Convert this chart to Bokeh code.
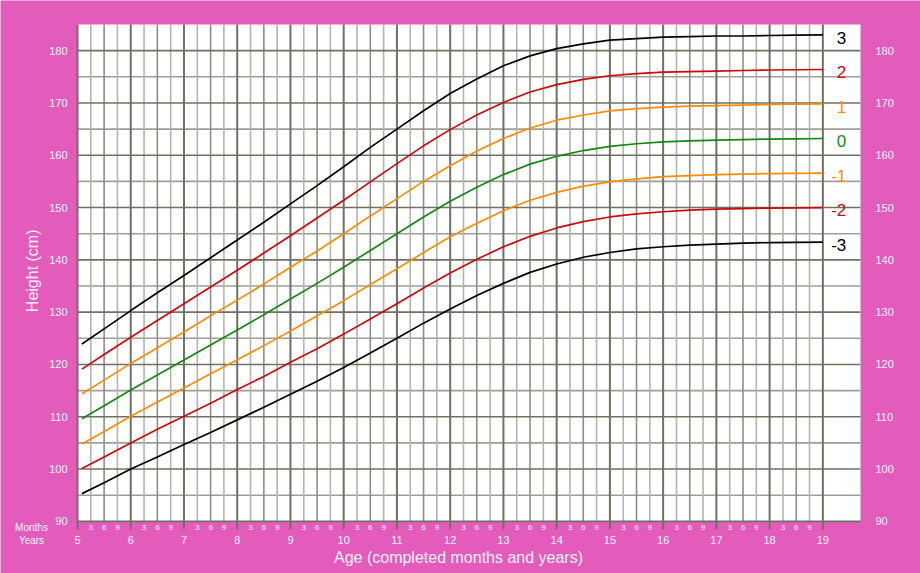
from bokeh.plotting import figure
from bokeh.models import Range1d
from bokeh.embed import file_html
from bokeh.resources import INLINE
from bokeh.core.properties import value
import math

# ---------------- data (height-for-age, girls 5-19 y, z-score curves) -------------
age = [5.083, 5.5, 6, 6.5, 7, 7.5, 8, 8.5, 9, 9.5, 10, 10.5, 11, 11.5, 12, 12.5,
       13, 13.5, 14, 14.5, 15, 15.5, 16, 16.5, 17, 17.5, 18, 18.5, 19]

sd3neg = [95.3, 97.4, 100.0, 102.3, 104.7, 107.0, 109.4, 111.8, 114.3, 116.8, 119.4,
          122.2, 125.0, 127.9, 130.6, 133.2, 135.5, 137.6, 139.2, 140.5, 141.4,
          142.1, 142.5, 142.8, 143.0, 143.2, 143.3, 143.35, 143.4]
sd2neg = [100.1, 102.3, 105.0, 107.6, 110.1, 112.6, 115.2, 117.7, 120.4, 123.0, 125.8,
          128.7, 131.6, 134.6, 137.5, 140.1, 142.5, 144.5, 146.1, 147.3, 148.2,
          148.8, 149.2, 149.5, 149.7, 149.8, 149.9, 149.95, 150.0]
sd1neg = [104.8, 107.2, 110.1, 112.8, 115.5, 118.2, 120.9, 123.6, 126.4, 129.3, 132.2,
          135.3, 138.3, 141.4, 144.4, 147.0, 149.4, 151.4, 152.9, 154.1, 154.9,
          155.5, 155.9, 156.1, 156.3, 156.4, 156.5, 156.55, 156.6]
sd0 = [109.6, 112.1, 115.1, 118.0, 120.85, 123.7, 126.6, 129.5, 132.5, 135.5, 138.6,
       141.8, 145.0, 148.2, 151.2, 153.9, 156.3, 158.3, 159.8, 160.9, 161.7,
       162.2, 162.55, 162.75, 162.9, 163.0, 163.1, 163.15, 163.2]
sd1 = [114.4, 117.0, 120.2, 123.2, 126.2, 129.3, 132.3, 135.4, 138.6, 141.7, 145.0,
       148.4, 151.7, 155.0, 158.0, 160.8, 163.2, 165.2, 166.7, 167.7, 168.5,
       168.9, 169.2, 169.4, 169.5, 169.6, 169.7, 169.75, 169.8]
sd2 = [119.1, 121.9, 125.2, 128.4, 131.6, 134.8, 138.0, 141.3, 144.6, 148.0, 151.4,
       154.9, 158.4, 161.8, 164.9, 167.7, 170.1, 172.1, 173.5, 174.5, 175.2,
       175.6, 175.9, 176.0, 176.1, 176.2, 176.3, 176.35, 176.4]
sd3 = [123.9, 126.8, 130.3, 133.7, 137.0, 140.4, 143.8, 147.2, 150.7, 154.2, 157.8,
       161.5, 165.0, 168.5, 171.8, 174.6, 177.1, 179.0, 180.4, 181.3, 182.0,
       182.3, 182.6, 182.7, 182.8, 182.8, 182.9, 182.95, 183.0]

z_labels = ["3", "2", "1", "0", "-1", "-2", "-3"]
year_ticks = list(range(5, 20))
height_ticks = list(range(90, 190, 10))
month_names = ["3", "6", "9"]

# ---------------- geometry / styling -------------------------------------------
W, H = 920, 573
X_LEFT, X_RIGHT = 5.0, 19.707        # white chart area (years)
Y_BOT, Y_TOP = 90.0, 185.0           # white chart area (cm)
PX_PER_YR = 53.24
PX_PER_CM = 5.23
x0 = X_LEFT - 77 / PX_PER_YR
x1 = x0 + W / PX_PER_YR
y1 = Y_TOP + 24 / PX_PER_CM
y0 = y1 - H / PX_PER_CM

PINK = "#e35bbb"
TXT = "#fff2fb"
BLACK = "#000000"
RED = "#cc0a0a"
ORANGE = "#ff8c00"
GREEN = "#128a12"
DARK = "#707066"
MID = "#8e8e86"
LIGHT = "#b4b4ac"
HLIGHT = "#9e9e96"
FONT = "Liberation Sans"

p = figure(width=W, height=H, output_backend="svg", toolbar_location=None,
           x_range=Range1d(x0, x1), y_range=Range1d(y0, y1),
           x_axis_location=None, y_axis_location=None,
           min_border_left=0, min_border_right=0, min_border_top=0,
           min_border_bottom=0)
p.border_fill_color = PINK
p.background_fill_color = PINK
p.outline_line_color = None
p.xgrid.visible = False
p.ygrid.visible = False

# white chart area
p.quad(left=[X_LEFT], right=[X_RIGHT], bottom=[Y_BOT], top=[Y_TOP],
       fill_color="white", line_color=None)

# grid
h5 = [h + 5 for h in height_ticks[:-1]]
p.segment(x0=[X_LEFT] * len(h5), y0=h5, x1=[X_RIGHT] * len(h5), y1=h5,
          line_color=HLIGHT, line_width=1.6)
quarters = [y + q for y in year_ticks[:-1] for q in (0.25, 0.75)]
p.segment(x0=quarters, y0=[Y_BOT] * len(quarters), x1=quarters,
          y1=[Y_TOP] * len(quarters), line_color=LIGHT, line_width=1.6)
halves = [y + 0.5 for y in year_ticks[:-1]]
p.segment(x0=halves, y0=[Y_BOT] * len(halves), x1=halves,
          y1=[Y_TOP] * len(halves), line_color=MID, line_width=1.6)
p.segment(x0=[X_LEFT] * len(height_ticks), y0=height_ticks,
          x1=[X_RIGHT] * len(height_ticks), y1=height_ticks,
          line_color=DARK, line_width=1.6)
stub = Y_BOT - 8 / PX_PER_CM
p.segment(x0=year_ticks, y0=[stub] * len(year_ticks), x1=year_ticks,
          y1=[Y_TOP] * len(year_ticks), line_color=DARK, line_width=2)

# curves
series = [sd3, sd2, sd1, sd0, sd1neg, sd2neg, sd3neg]
colors = [BLACK, RED, ORANGE, GREEN, ORANGE, RED, BLACK]
for s, c in zip(series, colors):
    p.line(age, s, line_color=c, line_width=1.7)

# z-score labels
p.text(x=[19.44] * 7, y=[s[-1] - 0.55 for s in series], text=z_labels,
       text_color=colors, text_align="right", text_baseline="middle",
       text_font=value(FONT), text_font_size="17px")

# height tick labels left / right
ht = [str(h) for h in height_ticks]
p.text(x=[X_LEFT - 10 / PX_PER_YR] * len(ht), y=height_ticks, text=ht,
       text_color=TXT, text_align="right", text_baseline="middle",
       text_font=value(FONT), text_font_size="11px")
p.text(x=[X_LEFT + 798 / PX_PER_YR] * len(ht), y=height_ticks, text=ht,
       text_color=TXT, text_align="left", text_baseline="middle",
       text_font=value(FONT), text_font_size="11px")

# year and month labels
y_month = Y_BOT - 6 / PX_PER_CM
y_year = Y_BOT - 19 / PX_PER_CM
p.text(x=year_ticks, y=[y_year] * len(year_ticks), text=[str(y) for y in year_ticks],
       text_color=TXT, text_align="center", text_baseline="middle",
       text_font=value(FONT), text_font_size="11px")
mx, mt = [], []
for y in year_ticks[:-1]:
    for i, q in enumerate((0.25, 0.5, 0.75)):
        mx.append(y + q)
        mt.append(month_names[i])
p.text(x=mx, y=[y_month] * len(mx), text=mt, text_color=TXT, text_align="center",
       text_baseline="middle", text_font=value(FONT), text_font_size="8px")

x_side = X_LEFT - 46 / PX_PER_YR
p.text(x=[x_side, x_side], y=[y_month, y_year], text=["Months", "Years"],
       text_color=TXT, text_align="center", text_baseline="middle",
       text_font=value(FONT), text_font_size="10px")

# axis titles
p.text(x=[X_LEFT + 381 / PX_PER_YR], y=[Y_BOT - 36 / PX_PER_CM],
       text=["Age (completed months and years)"], text_color=TXT,
       text_align="center", text_baseline="middle", text_font=value(FONT),
       text_font_size="16px")
p.text(x=[X_LEFT - 45 / PX_PER_YR], y=[137.9], text=["Height (cm)"],
       angle=math.pi / 2, text_color=TXT, text_align="center",
       text_baseline="middle", text_font=value(FONT), text_font_size="16px")

open("out.html", "w").write(file_html(p, INLINE))
